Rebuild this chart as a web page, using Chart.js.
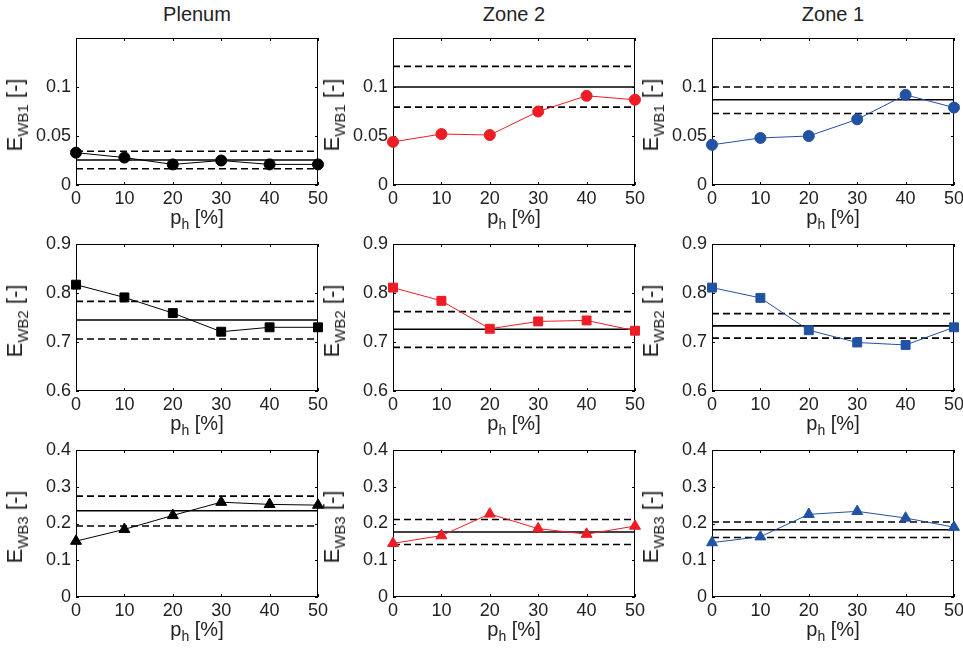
<!DOCTYPE html>
<html><head><meta charset="utf-8">
<script src="https://cdn.jsdelivr.net/npm/chart.js@4.4.0/dist/chart.umd.min.js"></script>
<style>
body{margin:0;background:#fff;width:963px;height:653px;position:relative;overflow:hidden;font-family:"Liberation Sans",Arial,Helvetica,sans-serif;color:#222}
canvas{position:absolute}
.t{position:absolute;white-space:nowrap;font-size:20px;line-height:20px}
.ttl{transform:translateX(-50%)}
.xl{transform:translateX(-50%)}
.yl{font-size:22px;line-height:22px;transform:translate(-50%,-50%) rotate(-90deg)}
sub{font-size:14px;vertical-align:baseline;position:relative;top:5px}
.yl sub{font-size:15px;top:6px}
</style></head><body>
<script>
// ---- data ----
const xValues = [0, 10, 20, 30, 40, 50];
const xTicks = [0, 10, 20, 30, 40, 50];
const columnTitles = ["Plenum", "Zone 2", "Zone 1"];
const rowSubscripts = ["WB1", "WB2", "WB3"];

const yTicksWB1 = [0, 0.05, 0.1];
const yTicksWB2 = [0.6, 0.7, 0.8, 0.9];
const yTicksWB3 = [0, 0.1, 0.2, 0.3, 0.4];
const yRangeWB1 = [0, 0.15];
const yRangeWB2 = [0.6, 0.9];
const yRangeWB3 = [0, 0.4];

const plenumWB1 = [0.033, 0.028, 0.021, 0.025, 0.021, 0.021];
const zone2WB1  = [0.044, 0.052, 0.051, 0.075, 0.091, 0.087];
const zone1WB1  = [0.041, 0.048, 0.050, 0.067, 0.092, 0.079];
const plenumWB2 = [0.817, 0.791, 0.759, 0.721, 0.730, 0.730];
const zone2WB2  = [0.811, 0.784, 0.727, 0.742, 0.744, 0.723];
const zone1WB2  = [0.811, 0.790, 0.724, 0.699, 0.694, 0.730];
const plenumWB3 = [0.152, 0.184, 0.222, 0.258, 0.252, 0.250];
const zone2WB3  = [0.146, 0.167, 0.226, 0.186, 0.171, 0.193];
const zone1WB3  = [0.148, 0.164, 0.225, 0.233, 0.215, 0.190];

// reference levels [lower, mean, upper]
const plenumWB1Ref = [0.0166, 0.0255, 0.0345];
const zone2WB1Ref  = [0.0795, 0.100, 0.121];
const zone1WB1Ref  = [0.073, 0.087, 0.100];
const plenumWB2Ref = [0.706, 0.745, 0.783];
const zone2WB2Ref  = [0.689, 0.726, 0.762];
const zone1WB2Ref  = [0.708, 0.733, 0.758];
const plenumWB3Ref = [0.193, 0.2345, 0.2745];
const zone2WB3Ref  = [0.143, 0.177, 0.211];
const zone1WB3Ref  = [0.162, 0.183, 0.204];

// ---- layout / style ----
const colLeft = [76, 393, 712];
const rowTop = [38, 244, 450];
const PW = 242, PH = 147;
const PAD_L = 58, PAD_T = 14, PAD_R = 16, PAD_B = 30;
const colColors = ["#000000", "#ee1c25", "#2152a3"];
const rowMarkers = [["circle", 5.5], ["rect", 6.3], ["triangle", 6.3]];
const tickFont = {family: '"Liberation Sans", Arial, sans-serif', size: 18};

const panels = [
  [plenumWB1, plenumWB1Ref, zone2WB1, zone2WB1Ref, zone1WB1, zone1WB1Ref],
  [plenumWB2, plenumWB2Ref, zone2WB2, zone2WB2Ref, zone1WB2, zone1WB2Ref],
  [plenumWB3, plenumWB3Ref, zone2WB3, zone2WB3Ref, zone1WB3, zone1WB3Ref]
];
const rowTicks = [yTicksWB1, yTicksWB2, yTicksWB3];
const rowRanges = [yRangeWB1, yRangeWB2, yRangeWB3];

const boxPlugin = {
  id: 'matlabBox',
  beforeDatasetsDraw(chart) {
    const {ctx, chartArea: a, scales: {x, y}} = chart;
    ctx.save();
    ctx.strokeStyle = '#000';
    ctx.lineWidth = 1;
    ctx.strokeRect(a.left + 0.5, a.top + 0.5, a.right - a.left - 1, a.bottom - a.top - 1);
    ctx.beginPath();
    const tl = 3;
    x.ticks.forEach(t => {
      const px = Math.round(x.getPixelForValue(t.value)) + 0.5;
      ctx.moveTo(px, a.bottom); ctx.lineTo(px, a.bottom - tl);
      ctx.moveTo(px, a.top); ctx.lineTo(px, a.top + tl);
    });
    y.ticks.forEach(t => {
      const py = Math.round(y.getPixelForValue(t.value)) + 0.5;
      ctx.moveTo(a.left, py); ctx.lineTo(a.left + tl, py);
      ctx.moveTo(a.right, py); ctx.lineTo(a.right - tl, py);
    });
    ctx.stroke();
    ctx.restore();
  }
};

function addText(html, cls, left, top) {
  const d = document.createElement('div');
  d.className = 't ' + cls;
  d.style.left = left + 'px';
  d.style.top = top + 'px';
  d.innerHTML = html;
  document.body.appendChild(d);
}

for (let ci = 0; ci < 3; ci++) {
  addText(columnTitles[ci], 'ttl', colLeft[ci] + PW / 2, 4);
}

for (let ri = 0; ri < 3; ri++) {
  for (let ci = 0; ci < 3; ci++) {
    const values = panels[ri][ci * 2];
    const ref = panels[ri][ci * 2 + 1];
    const color = colColors[ci];
    const [pstyle, prad] = rowMarkers[ri];
    const cv = document.createElement('canvas');
    const W = PAD_L + PW + PAD_R, H = PAD_T + PH + PAD_B;
    cv.width = W; cv.height = H;
    cv.style.left = (colLeft[ci] - PAD_L) + 'px';
    cv.style.top = (rowTop[ri] - PAD_T) + 'px';
    cv.style.width = W + 'px'; cv.style.height = H + 'px';
    document.body.appendChild(cv);
    const xMin = xTicks[0], xMax = xTicks[xTicks.length - 1];
    const refLine = (v, dash) => ({
      data: [{x: xMin, y: v}, {x: xMax, y: v}],
      borderColor: '#000', borderWidth: 1.6, borderDash: dash, pointRadius: 0
    });
    const ticks = rowTicks[ri];
    new Chart(cv, {
      type: 'line',
      data: {
        datasets: [
          {
            data: xValues.map((x, i) => ({x, y: values[i]})),
            borderColor: color, backgroundColor: color, borderWidth: 1,
            pointStyle: pstyle, pointRadius: prad, pointBorderWidth: 1,
            pointBackgroundColor: color, pointBorderColor: color, clip: false
          },
          refLine(ref[1], []),
          refLine(ref[2], [7, 4]),
          refLine(ref[0], [7, 4])
        ]
      },
      options: {
        responsive: false, animation: false, events: [],
        layout: {padding: {left: 0, top: PAD_T, right: PAD_R, bottom: 0}},
        plugins: {legend: {display: false}, tooltip: {enabled: false}},
        scales: {
          x: {
            type: 'linear', min: xMin, max: xMax,
            afterBuildTicks: s => { s.ticks = xTicks.map(v => ({value: v})); },
            afterFit: s => { s.height = PAD_B; s.paddingLeft = 0; s.paddingRight = 0; },
            grid: {display: false, drawTicks: false}, border: {display: false},
            ticks: {font: tickFont, color: '#222', padding: 3, maxRotation: 0, autoSkip: false,
                    callback: v => String(v)}
          },
          y: {
            type: 'linear', min: rowRanges[ri][0], max: rowRanges[ri][1],
            afterBuildTicks: s => { s.ticks = ticks.map(v => ({value: v})); },
            afterFit: s => { s.width = PAD_L; s.paddingTop = 0; s.paddingBottom = 0; },
            grid: {display: false, drawTicks: false}, border: {display: false},
            ticks: {font: tickFont, color: '#222', padding: 5, autoSkip: false,
                    callback: v => String(Math.round(v * 1000) / 1000)}
          }
        }
      },
      plugins: [boxPlugin]
    });
    addText('p<sub>h</sub> [%]', 'xl', colLeft[ci] + PW / 2, rowTop[ri] + PH + 22);
    addText('E<sub>' + rowSubscripts[ri] + '</sub> [-]', 'yl', colLeft[ci] - 60, rowTop[ri] + PH / 2 + 3);
  }
}
</script>
</body></html>
